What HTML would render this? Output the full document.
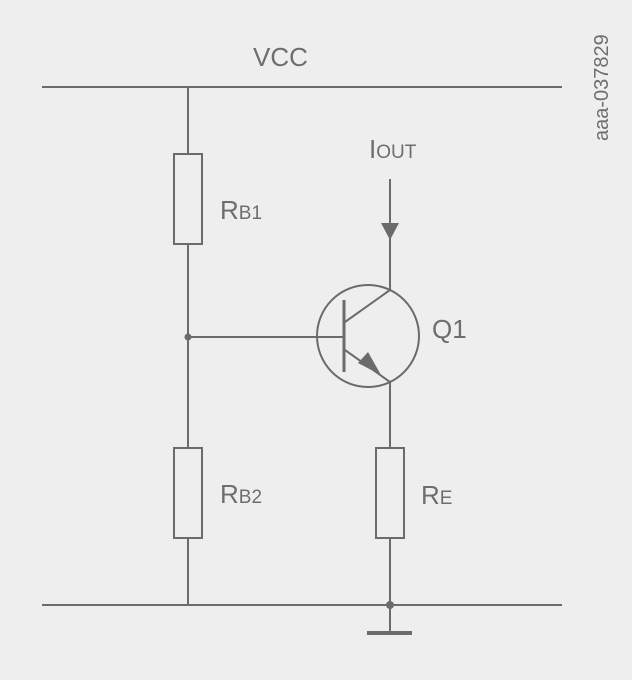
<!DOCTYPE html>
<html><head><style>
html,body{margin:0;padding:0;background:#eeeeee;}
svg{display:block;}
text{font-family:"Liberation Sans",sans-serif;fill:#6e6e6e;}
</style></head><body>
<svg width="632" height="680" viewBox="0 0 632 680" xmlns="http://www.w3.org/2000/svg">
<rect width="632" height="680" fill="#eeeeee"/>
<g stroke="#6b6b6b" stroke-width="2" fill="none">
<line x1="42" y1="87" x2="562" y2="87"/>
<line x1="42" y1="605" x2="562" y2="605"/>
<line x1="188" y1="87" x2="188" y2="154"/>
<rect x="174" y="154" width="28" height="90"/>
<line x1="188" y1="244" x2="188" y2="448"/>
<rect x="174" y="448" width="28" height="90"/>
<line x1="188" y1="538" x2="188" y2="605"/>
<line x1="188" y1="337" x2="344" y2="337"/>
<circle cx="368" cy="336" r="51"/>
<line x1="344" y1="300" x2="344" y2="372" stroke-width="3"/>
<line x1="345" y1="322" x2="390" y2="290"/>
<line x1="390" y1="179" x2="390" y2="290"/>
<line x1="345" y1="350" x2="390" y2="382"/>
<line x1="390" y1="382" x2="390" y2="448"/>
<rect x="376" y="448" width="28" height="90"/>
<line x1="390" y1="538" x2="390" y2="632"/>
</g>
<polygon points="381,223 399,223 390,240" fill="#6b6b6b"/>
<polygon points="358,363 368,352 381,375" fill="#6b6b6b"/>
<circle cx="188" cy="337" r="3.5" fill="#6b6b6b"/>
<circle cx="390" cy="605" r="4" fill="#6b6b6b"/>
<rect x="367" y="631" width="45" height="4" fill="#6b6b6b"/>
<text x="253" y="66" font-size="26">VCC</text>
<text x="220" y="219" font-size="26">R<tspan font-size="19">B1</tspan></text>
<text x="220" y="503" font-size="26">R<tspan font-size="19">B2</tspan></text>
<text x="421" y="504" font-size="26">R<tspan font-size="19">E</tspan></text>
<text x="432" y="338" font-size="26">Q1</text>
<text x="369" y="158" font-size="26">I<tspan font-size="19">OUT</tspan></text>
<text transform="translate(608,141) rotate(-90)" font-size="20">aaa-037829</text>
</svg>
</body></html>
